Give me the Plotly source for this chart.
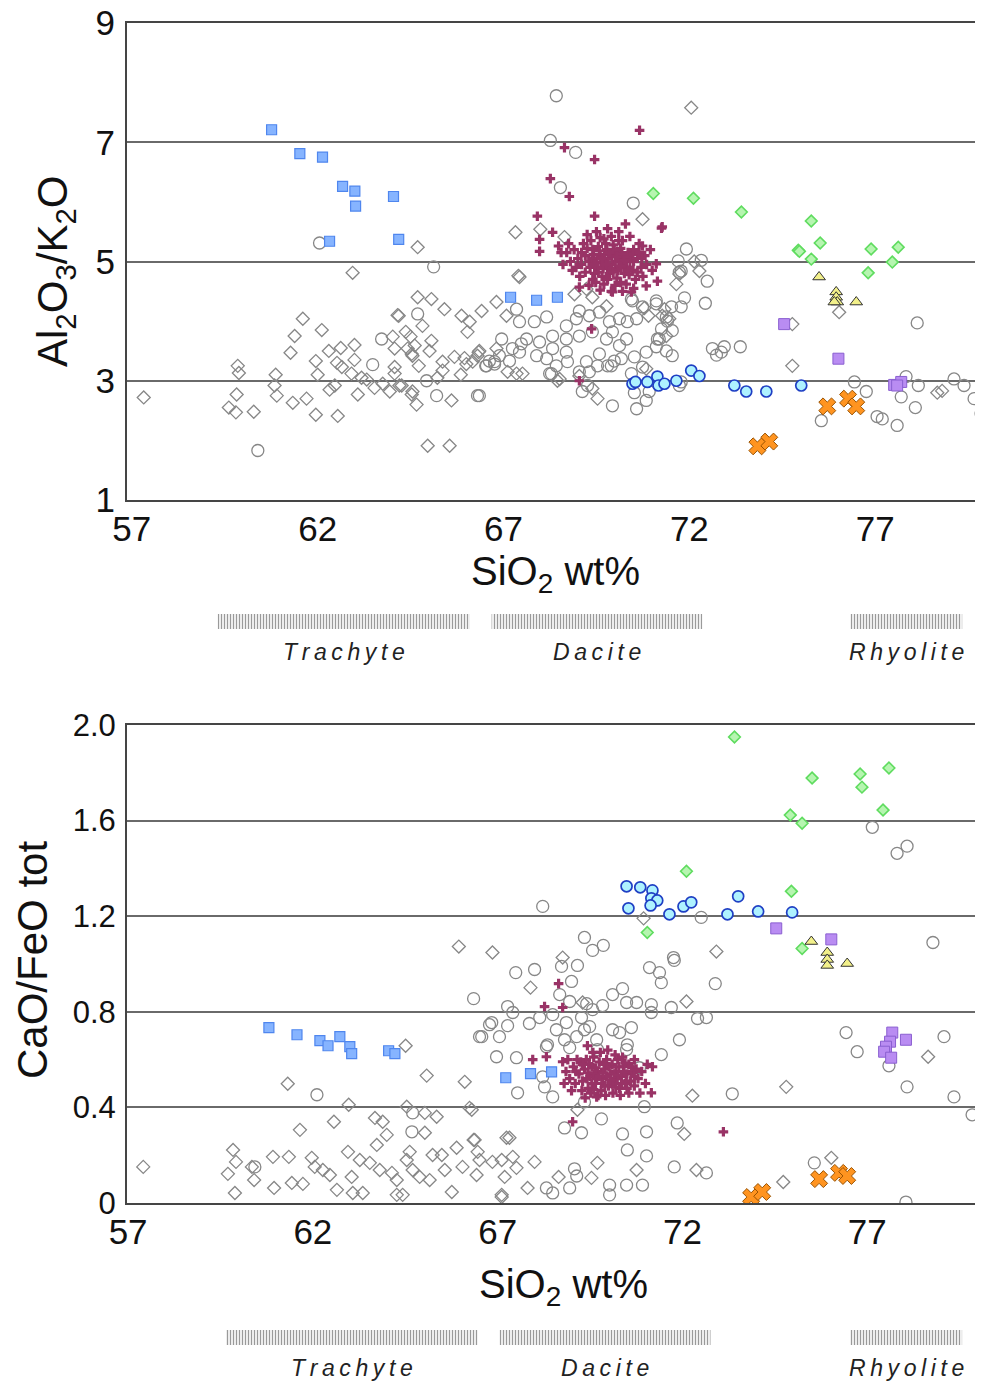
import plotly.graph_objects as go

# ---------------- DATA ----------------
x_ticks = [57, 62, 67, 72, 77]
top_y_ticks = [1, 3, 5, 7, 9]
bot_y_ticks = [0, 0.4, 0.8, 1.2, 1.6, 2.0]
bot_y_ticktext = ["0", "0.4", "0.8", "1.2", "1.6", "2.0"]

rock_names = ["Trachyte", "Dacite", "Rhyolite"]
top_rock_start = [59.31, 66.68, 76.33]
top_rock_end = [66.09, 72.35, 79.34]
bot_rock_start = [59.65, 67.05, 76.54]
bot_rock_end = [66.46, 72.76, 79.57]

# ---- Top panel: Al2O3/K2O vs SiO2 ----
top_gray_diamonds = [
    (57.32, 2.72), (59.85, 3.25), (59.88, 3.13), (59.82, 2.77), (59.61, 2.55), (59.80, 2.47), (60.28, 2.48),
    (60.87, 3.10), (60.84, 2.92), (60.90, 2.75), (61.33, 2.63), (61.27, 3.47), (61.38, 3.75), (61.60, 4.04),
    (61.70, 2.70), (61.95, 2.43), (61.95, 3.33), (62.00, 3.10), (62.11, 3.85), (62.30, 3.50), (62.32, 2.85),
    (62.46, 2.92), (62.54, 2.41), (62.62, 3.55), (62.65, 3.23), (62.99, 3.60), (62.99, 3.35), (62.91, 3.12),
    (63.08, 2.77), (63.32, 3.02), (63.53, 2.88), (63.94, 2.82), (64.07, 3.12), (64.07, 3.54), (64.15, 4.10),
    (64.26, 2.92), (64.37, 3.82), (64.50, 3.74), (64.55, 3.42), (64.53, 2.77), (64.66, 2.60), (64.69, 4.40),
    (64.82, 3.92), (65.06, 4.37), (65.06, 3.67), (65.01, 3.50), (64.96, 1.91), (65.55, 1.91), (65.41, 4.20),
    (65.60, 2.67), (65.87, 4.09), (66.03, 3.82), (66.09, 3.99), (65.95, 3.38), (66.17, 3.32), (66.33, 3.48),
    (66.41, 4.17), (66.81, 4.32), (66.81, 3.54), (62.94, 4.81), (64.69, 5.24), (67.32, 5.49), (67.99, 5.54),
    (67.43, 4.74), (64.18, 4.09), (67.08, 4.09), (68.91, 4.45), (69.23, 4.54), (69.39, 4.40), (69.77, 4.25),
    (70.90, 4.09), (71.65, 4.62), (71.73, 4.79), (71.33, 4.20), (71.46, 4.04), (71.38, 3.75), (64.02, 3.74),
    (64.61, 3.59), (64.53, 3.45), (64.07, 3.23), (64.72, 3.25), (65.36, 3.32), (65.68, 3.40), (65.36, 3.17),
    (64.20, 2.92), (64.55, 2.82), (66.35, 3.50), (66.30, 3.42), (67.11, 3.15), (67.35, 3.12), (67.51, 3.12),
    (68.51, 3.03), (69.53, 2.70), (69.39, 2.87), (69.04, 3.08), (70.84, 3.20), (71.27, 4.09), (74.77, 3.95),
    (74.77, 3.25), (78.80, 2.83), (78.67, 2.80), (76.03, 4.15), (68.45, 3.00), (70.79, 4.22), (72.05, 7.58),
    (70.74, 5.71), (68.64, 5.41), (72.13, 5.00), (72.27, 4.84), (67.40, 4.76), (64.42, 3.54), (62.52, 3.30),
    (63.18, 3.05), (63.75, 2.95), (65.22, 3.05), (65.85, 3.10), (66.00, 3.28),
]
top_gray_circles = [
    (62.05, 5.31), (65.12, 4.91), (60.39, 1.83), (63.48, 3.27), (63.72, 3.70), (64.69, 4.12), (65.20, 2.75),
    (64.93, 3.00), (66.52, 3.25), (66.76, 3.28), (66.35, 2.75), (68.42, 7.78), (68.26, 7.03), (68.94, 6.83),
    (68.53, 6.24), (70.49, 5.98), (71.92, 5.21), (71.70, 5.01), (72.48, 4.67), (71.78, 4.84), (70.44, 4.37),
    (70.74, 4.24), (71.11, 4.29), (71.78, 4.24), (71.87, 4.39), (71.52, 4.24), (71.54, 3.84), (71.14, 3.70),
    (71.11, 3.57), (70.84, 3.48), (70.52, 3.40), (70.17, 3.37), (69.90, 3.25), (69.58, 3.45), (69.53, 3.25),
    (69.23, 3.32), (69.04, 3.15), (69.31, 3.15), (68.72, 3.32), (68.69, 3.48), (68.42, 3.25), (68.24, 3.12),
    (68.16, 3.37), (68.32, 3.75), (68.69, 3.92), (68.96, 4.04), (69.04, 4.17), (69.31, 4.09), (69.58, 4.15),
    (69.85, 3.99), (70.12, 4.04), (70.33, 3.99), (70.58, 4.04), (69.93, 3.82), (70.31, 3.70), (70.12, 3.59),
    (69.77, 3.70), (69.39, 3.82), (69.04, 3.75), (68.69, 3.70), (68.32, 3.54), (67.97, 3.65), (67.89, 3.42),
    (67.62, 3.70), (67.48, 3.62), (67.43, 3.48), (67.24, 3.54), (66.95, 3.70), (66.89, 3.42), (67.16, 3.33),
    (66.76, 3.32), (66.62, 3.33), (66.54, 3.25), (67.43, 3.99), (67.83, 3.99), (68.16, 4.07), (67.35, 4.20),
    (66.30, 2.75), (68.29, 3.12), (69.93, 2.58), (70.58, 2.53), (70.84, 2.67), (70.92, 2.82), (69.12, 2.82),
    (69.26, 2.92), (71.38, 3.50), (71.54, 3.42), (70.44, 3.12), (70.74, 3.23), (69.80, 3.25), (69.98, 3.33),
    (71.78, 2.98), (72.43, 4.30), (72.32, 5.02), (71.73, 4.82), (71.41, 4.00), (71.25, 3.87), (71.19, 3.70),
    (72.62, 3.54), (72.94, 3.57), (72.73, 3.43), (72.86, 3.48), (73.37, 3.57), (78.13, 3.97), (76.44, 2.98),
    (76.76, 2.82), (77.70, 2.73), (78.16, 2.92), (78.08, 2.55), (77.59, 2.25), (77.05, 2.40), (77.19, 2.36),
    (75.55, 2.33), (77.83, 3.07), (79.12, 3.03), (79.39, 2.92), (79.66, 2.70), (79.85, 2.45), (70.52, 2.80),
    (71.73, 2.92), (70.47, 4.34), (71.11, 4.34), (71.38, 4.07),
]
top_magenta = [
    (69.2, 5.1), (69.3, 5.0), (69.4, 5.2), (69.5, 4.9), (69.6, 5.1), (69.7, 5.0), (69.8, 4.9), (69.9, 5.1),
    (70.0, 5.0), (70.1, 4.9), (70.2, 5.1), (70.3, 5.0), (70.4, 4.9), (70.5, 5.0), (69.55, 5.25), (69.75, 5.3),
    (69.95, 5.28), (70.15, 5.22), (70.35, 5.15), (69.45, 4.8), (69.65, 4.75), (69.85, 4.8), (70.05, 4.72),
    (70.25, 4.8), (70.45, 4.85), (69.1, 4.95), (69.0, 5.05), (68.9, 5.2), (69.15, 5.3), (69.35, 5.35),
    (69.6, 5.4), (69.9, 5.42), (70.2, 5.35), (70.5, 5.2), (70.6, 5.05), (70.7, 4.9), (70.55, 4.7), (70.3, 4.62),
    (70.0, 4.6), (69.7, 4.62), (69.4, 4.7), (69.2, 4.82), (68.95, 4.9), (68.8, 5.0), (68.7, 5.15), (69.25, 5.45),
    (69.5, 5.5), (69.8, 5.55), (70.1, 5.5), (70.4, 5.42), (70.65, 5.3), (70.8, 5.1), (70.85, 4.95), (70.75, 4.75),
    (70.5, 4.55), (70.2, 4.5), (69.9, 4.5), (69.6, 4.52), (69.3, 4.6), (69.05, 4.75), (68.85, 4.85),
    (69.72, 5.12), (69.82, 5.05), (69.92, 4.95), (70.02, 5.15), (70.12, 5.05), (69.62, 4.98), (69.52, 5.05),
    (69.42, 5.12), (70.22, 4.95), (70.32, 5.08), (70.42, 5.05), (69.68, 4.88), (69.88, 4.88), (70.08, 4.85),
    (70.28, 4.9), (69.78, 5.2), (69.98, 5.2), (70.18, 5.12), (69.58, 5.18), (69.38, 5.05), (69.33, 4.9),
    (70.38, 4.78), (70.48, 5.12), (69.48, 4.65), (70.15, 4.65), (68.6, 4.95), (68.75, 5.3), (68.55, 5.15),
    (70.95, 5.2), (71.0, 4.85),
    (69.65, 5.05), (69.85, 5.15), (70.05, 5.08), (70.25, 5.02), (69.75, 4.95), (69.95, 4.82), (70.15, 4.92),
    (70.35, 4.85), (69.45, 4.95), (69.55, 4.82), (70.6, 4.82), (70.65, 5.15), (69.25, 5.22), (69.1, 5.15),
    (70.72, 5.05), (69.8, 4.7), (70.1, 5.35), (69.7, 5.38),
    (70.66, 7.20), (68.64, 6.91), (69.45, 6.71), (68.26, 6.39), (68.77, 6.09), (67.91, 5.76), (69.45, 5.76),
    (70.28, 5.63), (71.25, 5.56), (67.97, 5.37), (67.97, 5.17), (68.48, 5.26), (68.32, 5.49), (70.74, 5.26),
    (71.11, 4.96), (71.14, 4.67), (70.84, 4.59), (69.93, 4.49), (69.04, 4.57), (70.44, 4.49), (69.37, 3.87),
    (69.04, 3.00), (71.27, 5.58),
]
top_blue_sq_x = [60.76, 61.52, 62.13, 62.67, 63.00, 63.02, 64.04, 62.32, 64.18, 67.19, 67.89, 68.45]
top_blue_sq_y = [7.21, 6.81, 6.75, 6.26, 6.18, 5.93, 6.09, 5.34, 5.37, 4.40, 4.35, 4.40]
top_cyan_x = [70.47, 70.55, 70.87, 71.14, 71.17, 71.33, 71.65, 72.05, 72.27, 73.21, 73.53, 74.07, 75.01]
top_cyan_y = [2.95, 2.98, 2.98, 3.07, 2.92, 2.95, 3.00, 3.17, 3.08, 2.92, 2.82, 2.82, 2.92]
top_green_x = [71.03, 72.11, 73.40, 75.28, 74.93, 74.96, 75.52, 75.28, 76.89, 77.62, 77.46, 76.81]
top_green_y = [6.14, 6.06, 5.83, 5.68, 5.19, 5.17, 5.31, 5.04, 5.21, 5.24, 4.99, 4.81]
top_yellow_x = [75.49, 75.95, 75.95, 75.98, 76.49, 75.90]
top_yellow_y = [4.74, 4.49, 4.40, 4.32, 4.32, 4.32]
top_purple_x = [74.55, 76.01, 77.51, 77.70, 77.59]
top_purple_y = [3.95, 3.37, 2.93, 2.98, 2.92]
top_orange_x = [73.83, 74.15, 75.71, 76.27, 76.49]
top_orange_y = [1.90, 1.98, 2.57, 2.70, 2.57]

# ---- Bottom panel: CaO/FeO tot vs SiO2 ----
bot_gray_diamonds = [
    (57.41, 0.151), (59.84, 0.222), (59.92, 0.172), (59.70, 0.122), (59.89, 0.042), (60.41, 0.096),
    (60.35, 0.151), (60.92, 0.193), (60.95, 0.063), (61.35, 0.193), (61.43, 0.084), (61.73, 0.080),
    (61.65, 0.306), (61.32, 0.499), (61.97, 0.189), (62.05, 0.151), (62.27, 0.138), (62.46, 0.117),
    (62.65, 0.055), (62.57, 0.340), (62.95, 0.214), (62.97, 0.411), (63.05, 0.109), (63.08, 0.042),
    (63.35, 0.042), (63.27, 0.180), (63.68, 0.356), (63.89, 0.340), (64.00, 0.285), (63.73, 0.243),
    (63.54, 0.168), (63.81, 0.138), (64.14, 0.126), (64.27, 0.096), (64.27, 0.034), (64.43, 0.034),
    (64.54, 0.403), (65.03, 0.377), (65.35, 0.361), (65.03, 0.294), (64.62, 0.214), (64.54, 0.180),
    (64.70, 0.138), (64.89, 0.109), (65.24, 0.201), (65.49, 0.201), (65.16, 0.096), (65.57, 0.138),
    (65.76, 0.046), (66.24, 0.398), (66.38, 0.264), (66.46, 0.214), (66.43, 0.117), (66.05, 0.151),
    (65.89, 0.231), (66.86, 0.172), (67.11, 0.034), (67.24, 0.273), (64.51, 0.658), (65.08, 0.533),
    (66.11, 0.507), (65.95, 1.073), (66.86, 1.048), (67.89, 0.901), (72.92, 1.052), (72.11, 0.843),
    (66.30, 0.390), (67.32, 0.273), (72.27, 0.449), (72.05, 0.289), (66.35, 0.264), (66.51, 0.180),
    (67.11, 0.180), (67.41, 0.193), (67.51, 0.147), (67.19, 0.109), (68.00, 0.172), (67.81, 0.063),
    (67.11, 0.025), (68.65, 0.109), (69.70, 0.168), (69.54, 0.105), (70.76, 0.138), (72.38, 0.138),
    (69.16, 0.390), (74.81, 0.486), (78.65, 0.612), (76.03, 0.189), (74.73, 0.088), (68.76, 1.027),
    (70.95, 1.191), (69.30, 0.839),
]
bot_gray_circles = [
    (62.11, 0.453), (64.68, 0.298), (60.43, 0.151), (66.35, 0.855), (69.35, 1.111), (69.57, 1.057),
    (69.86, 1.078), (67.49, 0.964), (68.00, 0.977), (68.73, 0.990), (69.16, 0.994), (69.00, 0.927),
    (71.11, 0.985), (71.38, 0.964), (71.43, 0.922), (71.78, 1.015), (72.89, 0.918), (70.11, 0.872),
    (70.38, 0.897), (68.68, 0.872), (68.95, 0.843), (67.27, 0.822), (67.41, 0.797), (69.41, 0.834),
    (69.57, 0.809), (69.84, 0.826), (70.49, 0.839), (70.76, 0.839), (71.16, 0.830), (71.70, 0.818),
    (72.41, 0.772), (72.65, 0.776), (66.78, 0.746), (66.57, 0.696), (67.05, 0.696), (67.27, 0.742),
    (67.86, 0.751), (68.14, 0.776), (68.49, 0.788), (68.86, 0.755), (69.27, 0.776), (69.49, 0.738),
    (70.11, 0.725), (70.30, 0.713), (70.62, 0.734), (71.16, 0.797), (71.92, 0.683), (68.59, 0.725),
    (68.81, 0.683), (69.14, 0.696), (69.35, 0.725), (68.35, 0.662), (68.95, 0.650), (69.68, 0.683),
    (70.51, 0.662), (70.49, 0.642), (66.97, 0.612), (67.51, 0.608), (68.32, 0.654), (69.70, 0.642),
    (70.84, 0.566), (71.43, 0.621), (67.54, 0.461), (68.49, 0.444), (68.27, 0.486), (68.22, 0.528),
    (69.35, 0.423), (69.81, 0.352), (70.97, 0.403), (68.81, 0.314), (69.27, 0.294), (70.38, 0.289),
    (71.03, 0.298), (71.86, 0.335), (73.35, 0.457), (70.51, 0.222), (71.03, 0.197), (69.08, 0.143),
    (69.14, 0.113), (70.03, 0.075), (70.03, 0.034), (70.49, 0.075), (70.92, 0.075), (71.78, 0.151),
    (72.65, 0.126), (68.95, 0.063), (68.32, 0.063), (68.49, 0.042), (76.43, 0.713), (76.73, 0.633),
    (77.59, 0.574), (78.08, 0.486), (79.08, 0.696), (79.35, 0.444), (79.84, 0.369), (75.57, 0.168),
    (78.05, 0.004), (78.78, 1.090), (77.14, 1.572), (77.81, 1.463), (78.08, 1.493), (68.22, 1.241),
    (72.51, 1.195), (71.76, 1.027), (66.51, 0.696), (64.70, 0.377), (66.84, 0.755),
]
bot_magenta = [
    (68.85, 0.55), (68.95, 0.52), (69.05, 0.57), (69.1, 0.50), (69.2, 0.54), (69.25, 0.59), (69.3, 0.51),
    (69.35, 0.56), (69.4, 0.60), (69.45, 0.48), (69.5, 0.53), (69.55, 0.57), (69.6, 0.61), (69.65, 0.50),
    (69.7, 0.55), (69.75, 0.59), (69.8, 0.47), (69.85, 0.52), (69.9, 0.56), (69.95, 0.60), (70.0, 0.49),
    (70.05, 0.54), (70.1, 0.58), (70.15, 0.51), (70.2, 0.55), (70.25, 0.60), (70.3, 0.48), (70.35, 0.53),
    (70.4, 0.57), (70.45, 0.50), (70.5, 0.54), (70.55, 0.58), (70.6, 0.51), (70.65, 0.55), (70.7, 0.49),
    (70.75, 0.56), (70.8, 0.52), (70.9, 0.55), (71.0, 0.50), (69.42, 0.52), (69.62, 0.54), (69.82, 0.50),
    (70.02, 0.57), (70.22, 0.52), (70.42, 0.55), (69.52, 0.46), (69.72, 0.45), (69.92, 0.45), (70.12, 0.46),
    (70.32, 0.45), (69.58, 0.63), (69.78, 0.63), (69.98, 0.64), (70.18, 0.62), (70.38, 0.61), (69.15, 0.60),
    (69.0, 0.47), (68.9, 0.60), (68.8, 0.50), (70.55, 0.46), (70.7, 0.60), (71.05, 0.58), (69.37, 0.44),
    (70.85, 0.46), (69.68, 0.52), (69.88, 0.58), (70.08, 0.50), (70.28, 0.57), (70.48, 0.51), (69.48, 0.58),
    (69.28, 0.47), (69.12, 0.55), (70.62, 0.57), (70.15, 0.54), (69.95, 0.53), (69.75, 0.53), (69.55, 0.50),
    (70.35, 0.50),
    (69.65, 0.565), (69.85, 0.545), (70.05, 0.515), (70.25, 0.535), (70.45, 0.585), (69.45, 0.545),
    (69.6, 0.475), (69.9, 0.49), (70.2, 0.485), (70.5, 0.48), (69.3, 0.58), (70.7, 0.53),
    (68.65, 0.918), (67.95, 0.600), (68.32, 0.612), (68.76, 0.591), (69.43, 0.658), (69.03, 0.340),
    (69.68, 0.444), (73.11, 0.298), (71.16, 0.461), (71.19, 0.570), (68.27, 0.822), (68.76, 0.818),
]
bot_blue_sq_x = [60.81, 61.57, 62.19, 62.41, 62.73, 63.00, 63.05, 64.05, 64.22, 67.22, 67.89, 68.46]
bot_blue_sq_y = [0.734, 0.704, 0.679, 0.658, 0.696, 0.654, 0.625, 0.637, 0.625, 0.524, 0.541, 0.549]
bot_cyan_x = [70.49, 70.86, 71.19, 71.16, 71.32, 71.14, 70.54, 71.65, 72.03, 72.24, 73.22, 73.51, 74.05, 74.97]
bot_cyan_y = [1.325, 1.321, 1.308, 1.275, 1.266, 1.245, 1.233, 1.208, 1.241, 1.258, 1.208, 1.283, 1.220, 1.216]
bot_green_x = [73.41, 75.51, 76.81, 76.86, 77.59, 74.92, 75.24, 77.43, 72.11, 74.95, 71.05, 75.24]
bot_green_y = [1.950, 1.778, 1.795, 1.740, 1.820, 1.623, 1.589, 1.644, 1.388, 1.304, 1.132, 1.065]
bot_yellow_x = [75.49, 75.92, 75.92, 75.92, 76.46]
bot_yellow_y = [1.094, 1.048, 1.019, 0.994, 1.002]
bot_purple_x = [74.54, 76.03, 77.68, 78.05, 77.62, 77.51, 77.46, 77.65]
bot_purple_y = [1.149, 1.103, 0.713, 0.683, 0.675, 0.654, 0.633, 0.608]
bot_orange_x = [73.86, 74.16, 75.70, 76.24, 76.46]
bot_orange_y = [0.025, 0.046, 0.100, 0.126, 0.113]

# ---------------- FIGURE ----------------
# The page body has an 8px default margin; the figure fills the rest of the window.
OFF = 8
W, H = 983 - OFF, 1385 - OFF
FONT = "Liberation Sans, Arial, Helvetica, sans-serif"
GRAY = "#878787"


def px(v):
    return (v - OFF) / W


def py(v):
    return 1 - (v - OFF) / H


fig = go.Figure()


def add(pts_x, pts_y, xa, ya, marker):
    fig.add_trace(go.Scatter(x=pts_x, y=pts_y, mode="markers", xaxis=xa, yaxis=ya,
                             marker=marker, showlegend=False, hoverinfo="skip", cliponaxis=True))


def unzip(pairs):
    return [p[0] for p in pairs], [p[1] for p in pairs]


styles = {
    "dia": dict(symbol="diamond-open", size=10, color=GRAY, line=dict(color=GRAY, width=1.3)),
    "circ": dict(symbol="circle-open", size=12, color=GRAY, line=dict(color=GRAY, width=1.3)),
    "mag": dict(symbol="cross", size=8, color="#993366", line=dict(width=0)),
    "blue": dict(symbol="square", size=10, color="#86b4ff", line=dict(color="#4f86ee", width=1.2)),
    "cyan": dict(symbol="circle", size=11, color="#aef2ff", line=dict(color="#1f3fc4", width=1.7)),
    "green": dict(symbol="diamond", size=9, color="#b6f5b0", line=dict(color="#5fdc5f", width=1.6)),
    "yellow": dict(symbol="triangle-up", size=11, color="#f2f08a", line=dict(color="#333333", width=1)),
    "purple": dict(symbol="square", size=11, color="#b98cf2", line=dict(color="#8a5fd0", width=1)),
    "orange": dict(symbol="x", size=15, color="#ff9420", line=dict(color="#9a5200", width=1)),
}

for xa, ya, dia, circ, mag, series in [
    ("x", "y", top_gray_diamonds, top_gray_circles, top_magenta,
     [(top_blue_sq_x, top_blue_sq_y, "blue"), (top_cyan_x, top_cyan_y, "cyan"),
      (top_green_x, top_green_y, "green"), (top_yellow_x, top_yellow_y, "yellow"),
      (top_purple_x, top_purple_y, "purple"), (top_orange_x, top_orange_y, "orange")]),
    ("x2", "y2", bot_gray_diamonds, bot_gray_circles, bot_magenta,
     [(bot_blue_sq_x, bot_blue_sq_y, "blue"), (bot_cyan_x, bot_cyan_y, "cyan"),
      (bot_green_x, bot_green_y, "green"), (bot_yellow_x, bot_yellow_y, "yellow"),
      (bot_purple_x, bot_purple_y, "purple"), (bot_orange_x, bot_orange_y, "orange")]),
]:
    dx, dy = unzip(dia)
    add(dx, dy, xa, ya, styles["dia"])
    cx, cy = unzip(circ)
    add(cx, cy, xa, ya, styles["circ"])
    mx, my = unzip(mag)
    add(mx, my, xa, ya, styles["mag"])
    for sx, sy, st in series:
        add(sx, sy, xa, ya, styles[st])

# hatched rock-type bands
for xa, ya, starts, ends in [("x3", "y3", top_rock_start, top_rock_end),
                             ("x4", "y4", bot_rock_start, bot_rock_end)]:
    fig.add_trace(go.Bar(
        x=[e - s for s, e in zip(starts, ends)], base=starts, y=[0] * len(starts),
        orientation="h", width=1, xaxis=xa, yaxis=ya, showlegend=False, hoverinfo="skip",
        marker=dict(color="white", line=dict(width=0),
                    pattern=dict(shape="|", size=3, solidity=0.45, fgcolor="#9a9a9a",
                                 bgcolor="white", fillmode="replace")),
    ))

TOP_X_RANGE = [56.87, 79.9]
BOT_X_RANGE = [56.97, 80.0]
top_xdom = [px(127), 1.0]
bot_xdom = [px(127), px(978)]
top_ydom = [py(500), py(23)]
bot_ydom = [py(1203), py(725)]

axis_line = dict(showline=True, linecolor="#454545", linewidth=2, ticks="", zeroline=False,
                 automargin=False, ticklabeloverflow="allow")

fig.update_layout(
    width=W, height=H, margin=dict(l=0, r=0, t=0, b=0, autoexpand=False),
    paper_bgcolor="white", plot_bgcolor="white",
    font=dict(family=FONT, color="#111111"),
    barmode="overlay",
    xaxis=dict(domain=top_xdom, range=TOP_X_RANGE, anchor="y", tickvals=x_ticks, showgrid=False,
               mirror=True, tickfont=dict(size=35), ticklabelstandoff=-3, **axis_line),
    yaxis=dict(domain=top_ydom, range=[1, 9], anchor="x", tickvals=top_y_ticks, showgrid=True,
               gridcolor="#6a6a6a", gridwidth=1.5, mirror=False, tickfont=dict(size=35),
               ticklabelstandoff=3, **axis_line),
    xaxis2=dict(domain=bot_xdom, range=BOT_X_RANGE, anchor="y2", tickvals=x_ticks, showgrid=False,
                mirror=True, tickfont=dict(size=35), ticklabelstandoff=-3, **axis_line),
    yaxis2=dict(domain=bot_ydom, range=[0, 2], anchor="x2", tickvals=bot_y_ticks, ticktext=bot_y_ticktext,
                showgrid=True, gridcolor="#6a6a6a", gridwidth=1.5, mirror=True, tickfont=dict(size=31),
                ticklabelstandoff=3, **axis_line),
    xaxis3=dict(domain=top_xdom, range=TOP_X_RANGE, anchor="y3", visible=False, automargin=False),
    yaxis3=dict(domain=[py(629), py(614)], range=[-0.5, 0.5], anchor="x3", visible=False,
                automargin=False),
    xaxis4=dict(domain=bot_xdom, range=BOT_X_RANGE, anchor="y4", visible=False, automargin=False),
    yaxis4=dict(domain=[py(1345), py(1330)], range=[-0.5, 0.5], anchor="x4", visible=False,
                automargin=False),
)

THIN = "\u2009"
annotations = []
for xref, starts, ends, ypos in [("x3", top_rock_start, top_rock_end, py(652)),
                                 ("x4", bot_rock_start, bot_rock_end, py(1368))]:
    for name, s, e in zip(rock_names, starts, ends):
        annotations.append(dict(
            x=(s + e) / 2, y=ypos, xref=xref, yref="paper", showarrow=False,
            text="<i>" + THIN.join(name) + "</i>", font=dict(size=23, color="#222222", family=FONT),
            xanchor="center", yanchor="middle"))

annotations += [
    dict(x=px(555), y=py(574), xref="paper", yref="paper", showarrow=False,
         text="SiO<sub>2</sub> wt%", font=dict(size=40, color="#111111"), xanchor="center", yanchor="middle"),
    dict(x=px(563), y=py(1287), xref="paper", yref="paper", showarrow=False,
         text="SiO<sub>2</sub> wt%", font=dict(size=40, color="#111111"), xanchor="center", yanchor="middle"),
    dict(x=px(55), y=py(272), xref="paper", yref="paper", showarrow=False, textangle=-90,
         text="Al<sub>2</sub>O<sub>3</sub>/K<sub>2</sub>O", font=dict(size=42, color="#111111"),
         xanchor="center", yanchor="middle"),
    dict(x=px(32), y=py(960), xref="paper", yref="paper", showarrow=False, textangle=-90,
         text="CaO/FeO tot", font=dict(size=42, color="#111111"), xanchor="center", yanchor="middle"),
]
fig.update_layout(annotations=annotations)

fig.write_html("out.html")
